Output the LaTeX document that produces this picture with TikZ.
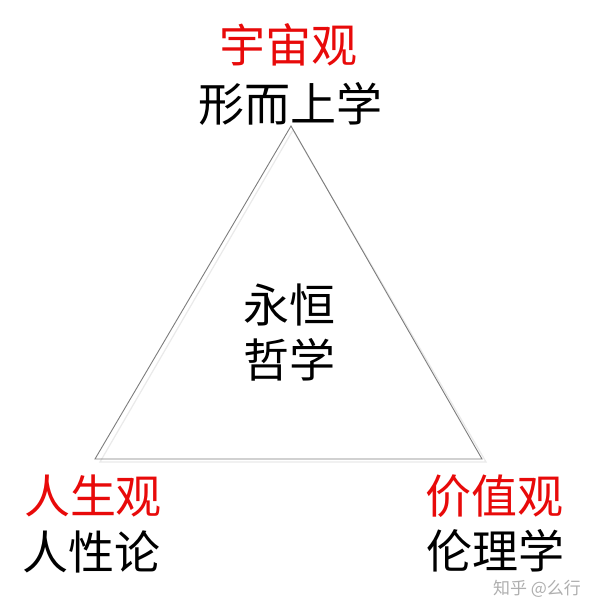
\documentclass[tikz,border=0pt]{standalone}
\usepackage{fontspec}
\setmainfont{Noto Sans CJK SC}
\newfontfamily\cjk{Noto Sans CJK SC}
\definecolor{titlered}{RGB}{232,10,10}
\definecolor{edgegray}{RGB}{125,125,125}
\definecolor{shadegray}{RGB}{234,234,234}
\definecolor{markgray}{RGB}{175,175,175}
\tikzset{
  redlabel/.style={text=titlered, font=\cjk\fontsize{46}{46}\selectfont, inner sep=0pt},
  blacklabel/.style={text=black, font=\cjk\fontsize{46}{46}\selectfont, inner sep=0pt},
  edge/.style={draw=edgegray, line width=0.9pt, line join=miter},
  shade/.style={draw=shadegray, line width=1.2pt},
  watermark/.style={text=markgray, font=\cjk\fontsize{17}{17}\selectfont, inner sep=0pt}
}
\begin{document}
\begin{tikzpicture}[x=1pt,y=1pt]
\useasboundingbox (0,0) rectangle (600,614);
\fill[white] (0,0) rectangle (600,614);
% triangle vertices
\coordinate (apex) at (291,488);
\coordinate (bl) at (95,155);
\coordinate (br) at (482,155);
\coordinate (apexs) at (293,484);
\coordinate (bls) at (100,152);
\coordinate (brs) at (486,152);
\draw[shade] (apexs) -- (bls) -- (brs) -- cycle;
\draw[edge] (apex) -- (bl) -- (br) -- cycle;
% labels
\node[redlabel] (cosmos) at (288,569) {宇宙观};
\node[blacklabel] (meta) at (290,510) {形而上学};
\node[blacklabel] (eternal) at (289,309) {永恒};
\node[blacklabel] (philo) at (289,254) {哲学};
\node[redlabel] (life) at (93,118) {人生观};
\node[blacklabel] (nature) at (92,62) {人性论};
\node[redlabel] (value) at (494,118) {价值观};
\node[blacklabel] (ethics) at (495,63) {伦理学};
\node[watermark] (mark) at (537,25) {知乎 @么行};
\end{tikzpicture}
\end{document}
